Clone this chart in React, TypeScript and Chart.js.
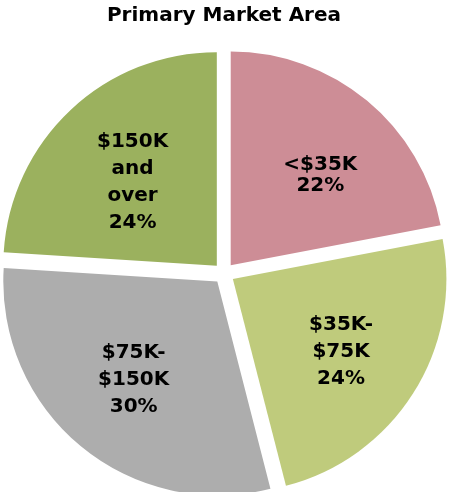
import React, { useEffect, useRef } from "react";
import { Chart, registerables } from "chart.js";

Chart.register(...registerables);

const TITLE = "Primary Market Area";
const CATEGORIES = ["<$35K", "$35K-$75K", "$75K-$150K", "$150K and over"];
const LABEL_LINES = [["<$35K"], ["$35K-", "$75K"], ["$75K-", "$150K"], ["$150K", "and", "over"]];
const VALUES = [22, 24, 30, 24];
const COLORS = ["rgb(205,141,150)", "rgb(191,203,124)", "rgb(173,173,173)", "rgb(155,177,94)"];

const FONT_FAMILY = "'DejaVu Sans', sans-serif";

const labelPlugin = {
  id: "sliceLabels",
  afterDatasetsDraw(chart: any, _args: any, opts: any) {
    const meta = chart.getDatasetMeta(0);
    const ctx = chart.ctx as CanvasRenderingContext2D;
    ctx.save();
    ctx.font = `bold ${opts.size}px ${FONT_FAMILY}`;
    ctx.fillStyle = "#000";
    ctx.textAlign = "center";
    ctx.textBaseline = "alphabetic";
    meta.data.forEach((arc: any, i: number) => {
      const p = arc.getProps(["x", "y", "startAngle", "endAngle", "outerRadius"], true);
      const mid = (p.startAngle + p.endAngle) / 2;
      const dist = opts.shift + opts.ratio * p.outerRadius;
      const nudge = opts.nudge[i] || [0, 0];
      const cx = p.x + Math.cos(mid) * dist + nudge[0];
      const cy = p.y + Math.sin(mid) * dist + nudge[1];
      const lines = [...LABEL_LINES[i], `${VALUES[i]}%`];
      const pitch = opts.pitch[i];
      lines.forEach((t: string, k: number) => {
        const y = cy + (k - (lines.length - 1) / 2) * pitch + opts.capHalf;
        ctx.fillText(t, cx, y);
      });
    });
    ctx.restore();
  },
};

export default function App() {
  const ref = useRef<HTMLCanvasElement | null>(null);

  useEffect(() => {
    document.body.style.margin = "0";
    const canvas = ref.current;
    if (!canvas) return;
    const chart = new Chart(canvas, {
      type: "pie",
      data: {
        labels: CATEGORIES,
        datasets: [
          {
            data: VALUES,
            backgroundColor: COLORS,
            borderWidth: 0,
            offset: 42,
            hoverOffset: 0,
          } as any,
        ],
      },
      options: {
        animation: false,
        responsive: false,
        radius: 213.5,
        layout: { padding: { left: 0, right: 2, top: 0, bottom: 0 } },
        events: [],
        plugins: {
          legend: { display: false },
          tooltip: { enabled: false },
          title: {
            display: true,
            text: TITLE,
            color: "#000",
            font: { family: FONT_FAMILY, size: 20, weight: "bold" },
            padding: { top: 4, bottom: 26.6 },
          },
          sliceLabels: {
            size: 20,
            shift: 10.5,
            ratio: 0.6,
            pitch: [21, 27, 27, 27],
            capHalf: 7.3,
            nudge: [[8, 7], [0, 2.5], [-2, -2.5], [3.5, 8]],
          },
        } as any,
      } as any,
      plugins: [labelPlugin],
    });
    return () => chart.destroy();
  }, []);

  return (
    <div style={{ position: "absolute", left: 0, top: 0, width: 450, height: 492 }}>
      <canvas ref={ref} width={450} height={492} style={{ width: 450, height: 492, display: "block" }} />
    </div>
  );
}
